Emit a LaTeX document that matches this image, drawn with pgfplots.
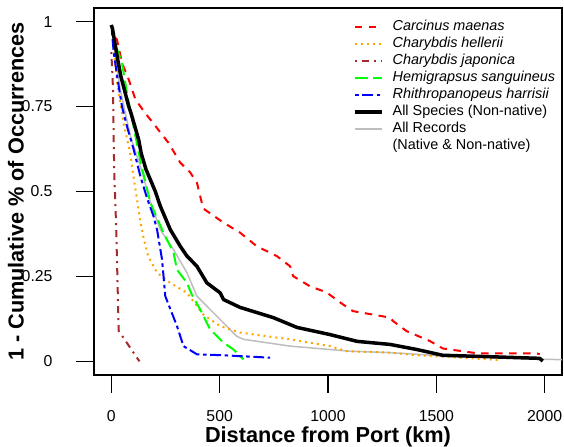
\documentclass[border=0pt]{standalone}
\usepackage{pgfplots}
\pgfplotsset{compat=1.18}
\usepackage{fontspec}
\setmainfont{Liberation Sans}

\definecolor{rred}{HTML}{FF0000}
\definecolor{rorange}{HTML}{FFA500}
\definecolor{rbrown}{HTML}{A52A2A}
\definecolor{rgreen}{HTML}{00FF00}
\definecolor{rblue}{HTML}{0000FF}
\definecolor{rgray}{HTML}{BEBEBE}

\begin{document}
\begin{tikzpicture}
\useasboundingbox (-94bp,-72bp) rectangle (470bp,375bp);
\begin{axis}[
    at={(0,0)}, anchor=south west,
    scale only axis,
    width=468bp, height=367bp,
    xmin=-80, xmax=2080,
    ymin=-0.04, ymax=1.04,
    axis line style={line width=1.2bp},
    xtick={0,500,1000,1500,2000},
    ytick={0,0.25,0.5,0.75,1},
    yticklabels={0,0.25,0.5,0.75,1},
    tick align=outside, tick pos=left,
    major tick length=18bp,
    tick style={line width=1.2bp, black},
    /pgf/number format/assume math mode=true,
    /pgf/number format/1000 sep={},
    ticklabel style={font=\fontsize{15.8bp}{18bp}\selectfont},
    xticklabel style={anchor=center, yshift=-23bp},
    yticklabel style={anchor=east, xshift=-20bp},
    xlabel={\textbf{Distance from Port (km)}},
    ylabel={\textbf{1 - Cumulative \% of Occurrences}},
    label style={font=\fontsize{21.7bp}{24bp}\selectfont},
    xlabel style={at={(axis description cs:0.5,-0.169)}, anchor=center},
    ylabel style={at={(axis description cs:-0.1667,0.5)}, anchor=center},
    legend cell align=left,
    legend image code/.code={\draw[#1] (0bp,0bp) -- (27bp,0bp);},
    legend style={draw=none, fill=none,
        at={(axis description cs:0.547,0.972)}, anchor=north west,
        font=\fontsize{14.4bp}{17bp}\selectfont,
        nodes={inner sep=0pt, text height=10.5bp, text depth=3bp},
        row sep=3.5bp, column sep=9bp},
]
% all records (drawn first, under the rest)
\addplot[rgray, line width=1.5bp, forget plot] coordinates {
(3,0.98) (20,0.90) (41,0.80) (88,0.663) (134,0.574) (180,0.47) (226,0.388)
(287,0.329) (349,0.261) (395,0.192) (487,0.133) (579,0.074) (610,0.065)
(825,0.045) (1101,0.03) (1286,0.026) (1530,0.016) (2009,0.006) (2200,0.004)
};
% Carcinus maenas
\addplot[rred, line width=2bp, dash pattern=on 7.5bp off 6.5bp] coordinates {
(0,0.99) (10,0.96) (26,0.947) (49,0.879) (80,0.83) (111,0.771) (157,0.73)
(195,0.70) (226,0.674) (263,0.644) (318,0.585) (364,0.556) (395,0.526)
(424,0.45) (516,0.409) (594,0.379) (671,0.339) (764,0.31) (825,0.28)
(839,0.251) (917,0.221) (994,0.203) (1055,0.174) (1115,0.148) (1286,0.129)
(1300,0.119) (1363,0.089) (1470,0.06) (1530,0.038) (1687,0.024) (1963,0.024)
(1977,0.021)
};
\addlegendentry{\textit{Carcinus maenas}}
% Charybdis hellerii
\addplot[rorange, line width=2bp, dash pattern=on 2bp off 4bp] coordinates {
(3,0.98) (15,0.90) (26,0.82) (57,0.70) (88,0.61) (103,0.54) (118,0.48)
(134,0.41) (150,0.36) (170,0.31) (211,0.261) (272,0.231) (349,0.202)
(424,0.138) (502,0.104) (594,0.085) (718,0.074) (825,0.065) (1009,0.045)
(1086,0.03) (1286,0.026) (1410,0.018) (1530,0.014) (1793,0.004)
};
\addlegendentry{\textit{Charybdis hellerii}}
% Charybdis japonica
\addplot[rbrown, line width=2bp, dash pattern=on 2bp off 5bp on 7bp off 5bp] coordinates {
(0,0.91) (8,0.80) (11,0.64) (14,0.545) (18,0.476) (23,0.379) (26,0.30)
(34,0.09) (130,0.0)
};
\addlegendentry{\textit{Charybdis japonica}}
% Hemigrapsus sanguineus
\addplot[rgreen, line width=2bp, dash pattern=on 12.6bp off 5.4bp] coordinates {
(3,0.98) (20,0.93) (49,0.879) (72,0.79) (134,0.59) (180,0.467) (241,0.378)
(287,0.32) (303,0.27) (349,0.231) (371,0.197) (410,0.153) (456,0.094)
(518,0.055) (564,0.035) (610,0.006)
};
\addlegendentry{\textit{Hemigrapsus sanguineus}}
% Rhithropanopeus harrisii
\addplot[rblue, line width=2bp, dash pattern=on 3.6bp off 3.6bp on 10.8bp off 3.6bp] coordinates {
(3,0.97) (11,0.908) (34,0.81) (49,0.751) (72,0.692) (103,0.624) (134,0.545)
(165,0.48) (195,0.427) (211,0.388) (234,0.30) (249,0.192) (303,0.104)
(333,0.045) (395,0.021) (518,0.018) (733,0.011)
};
\addlegendentry{\textit{Rhithropanopeus harrisii}}
% all species (non-native)
\addplot[black, line width=3.5bp, line join=round] coordinates {
(0,0.99) (5,0.98) (26,0.90) (44,0.839) (80,0.751) (91,0.73) (126,0.653)
(138,0.612) (160,0.565) (180,0.535) (203,0.50) (226,0.457) (272,0.388)
(318,0.339) (349,0.31) (395,0.28) (441,0.231) (502,0.202) (518,0.182)
(594,0.159) (747,0.129) (857,0.1) (1009,0.079) (1134,0.059) (1286,0.05)
(1410,0.035) (1530,0.018) (1687,0.015) (1977,0.009) (1991,0.001)
};
\addlegendentry{All Species (Non-native)}
\addlegendimage{rgray, line width=1.5bp}
\addlegendentry{All Records}
\addlegendimage{empty legend}
\addlegendentry{(Native \& Non-native)}
\end{axis}
\end{tikzpicture}
\end{document}
